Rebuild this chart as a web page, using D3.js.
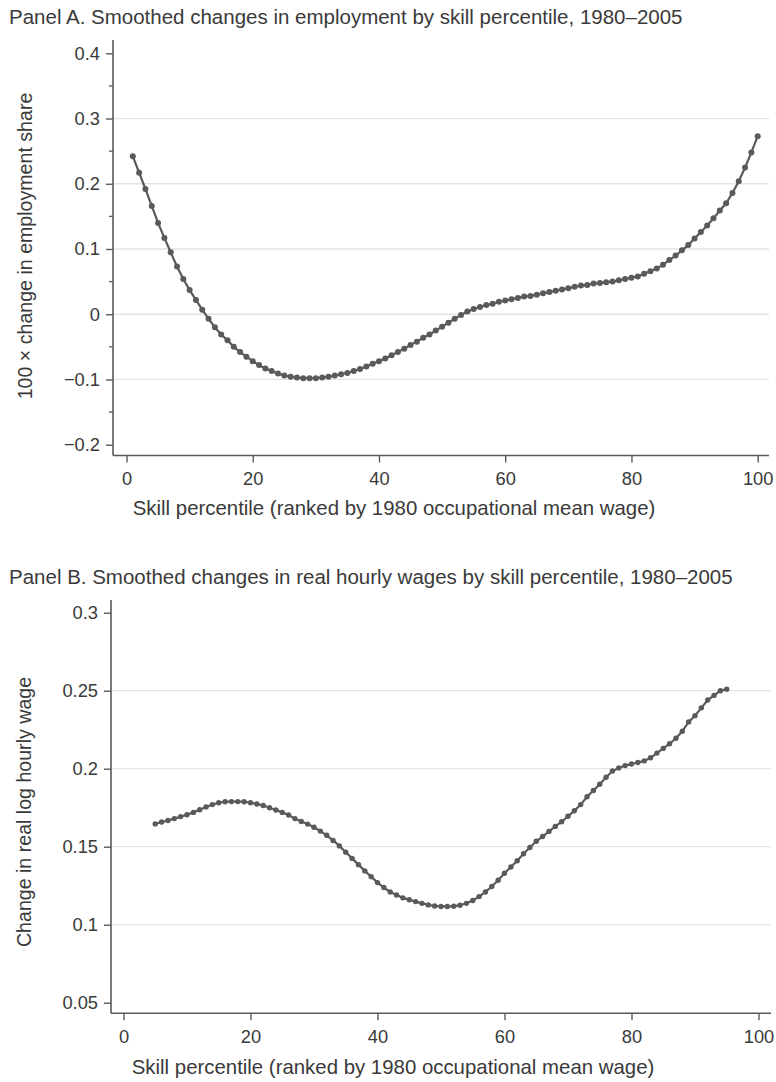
<!DOCTYPE html>
<html>
<head>
<meta charset="utf-8">
<script src="https://cdn.jsdelivr.net/npm/d3@7/dist/d3.min.js"></script>
<style>
  html, body { margin: 0; padding: 0; background: #fff; }
  svg { display: block; font-family: "Liberation Sans", Arial, Helvetica, sans-serif; }
</style>
</head>
<body>
<svg id="chart" width="776" height="1082"></svg>
<script>
// Panel A: smoothed change in employment share by skill percentile (1..100)
const skillA = d3.range(1, 101);
const employmentChange = [
  0.242, 0.217, 0.192, 0.166, 0.140, 0.117, 0.095, 0.073, 0.054, 0.037,
  0.022, 0.007, -0.007, -0.020, -0.031, -0.040, -0.050, -0.058, -0.065, -0.072,
  -0.078, -0.083, -0.087, -0.091, -0.094, -0.096, -0.097, -0.098, -0.098, -0.098,
  -0.097, -0.096, -0.094, -0.092, -0.090, -0.087, -0.084, -0.080, -0.076, -0.072,
  -0.068, -0.063, -0.058, -0.053, -0.047, -0.042, -0.036, -0.031, -0.025, -0.019,
  -0.013, -0.007, -0.001, 0.004, 0.008, 0.011, 0.014, 0.016, 0.019, 0.021,
  0.023, 0.025, 0.027, 0.028, 0.030, 0.032, 0.034, 0.036, 0.038, 0.040,
  0.042, 0.044, 0.045, 0.047, 0.048, 0.049, 0.050, 0.052, 0.054, 0.056,
  0.058, 0.062, 0.066, 0.070, 0.076, 0.083, 0.090, 0.098, 0.106, 0.116,
  0.126, 0.136, 0.147, 0.159, 0.170, 0.186, 0.204, 0.225, 0.248, 0.273
];

// Panel B: smoothed change in real log hourly wage by skill percentile (5..95)
const skillB = d3.range(5, 96);
const wageChange = [
  0.1646, 0.1658, 0.1668, 0.1680, 0.1693, 0.1705, 0.1720, 0.1737, 0.1755, 0.1770,
  0.1782, 0.1788, 0.1789, 0.1789, 0.1788, 0.1782, 0.1774, 0.1764, 0.1750, 0.1735,
  0.1720, 0.1703, 0.1680, 0.1662, 0.1645, 0.1625, 0.1600, 0.1573, 0.1540, 0.1505,
  0.1465, 0.1425, 0.1385, 0.1345, 0.1308, 0.1270, 0.1238, 0.1210, 0.1190, 0.1172,
  0.1160, 0.1148, 0.1137, 0.1127, 0.1120, 0.1117, 0.1117, 0.1118, 0.1125, 0.1137,
  0.1155, 0.1180, 0.1210, 0.1245, 0.1285, 0.1330, 0.1370, 0.1410, 0.1455, 0.1495,
  0.1535, 0.1565, 0.1598, 0.1630, 0.1660, 0.1695, 0.1730, 0.1770, 0.1820, 0.1860,
  0.1900, 0.1945, 0.1985, 0.2005, 0.2020, 0.2030, 0.2040, 0.2050, 0.2070, 0.2100,
  0.2130, 0.2160, 0.2195, 0.2240, 0.2300, 0.2340, 0.2390, 0.2440, 0.2470, 0.2500,
  0.2510
];

// Tick values and labels
const xTicks = [0, 20, 40, 60, 80, 100];
const yTicksA = [-0.2, -0.1, 0, 0.1, 0.2, 0.3, 0.4];
const yMinorA = [-0.15, -0.05, 0.05, 0.15, 0.25, 0.35];
const yTicksB = [0.05, 0.1, 0.15, 0.2, 0.25, 0.3];

const titleA = "Panel A. Smoothed changes in employment by skill percentile, 1980\u20132005";
const titleB = "Panel B. Smoothed changes in real hourly wages by skill percentile, 1980\u20132005";
const yTitleA = "100 \u00d7 change in employment share";
const yTitleB = "Change in real log hourly wage";
const xTitle = "Skill percentile (ranked by 1980 occupational mean wage)";

const TEXT = "#3a3a3a";
const AXIS = "#5a5a5a";
const GRID = "#e4e4e4";
const LINE = "#5a5a5a";

const svg = d3.select("#chart");

function fmtA(v) {
  if (Math.abs(v) < 1e-9) return "0";
  const s = d3.format(".1f")(Math.abs(v));
  return (v < 0 ? "\u2212" : "") + s;
}
function fmtB(v) {
  return String(+v.toFixed(2));
}

function panel(opts) {
  const g = svg.append("g");
  const { x, y, axisLeft, axisBottom, axisTop, axisRight } = opts;

  // title
  g.append("text")
    .attr("x", 9).attr("y", opts.titleY)
    .attr("fill", TEXT).attr("font-size", 20.5)
    .text(opts.title);

  // gridlines (interior major ticks)
  g.append("g").selectAll("line")
    .data(opts.yTicks.slice(1, -1))
    .join("line")
    .attr("x1", axisLeft + 1).attr("x2", axisRight)
    .attr("y1", d => y(d)).attr("y2", d => y(d))
    .attr("stroke", GRID).attr("stroke-width", 1.3);

  // y axis
  const yAxis = d3.axisLeft(y)
    .tickValues(opts.yTicks)
    .tickFormat(opts.fmt)
    .tickSize(7)
    .tickPadding(6);
  const ya = g.append("g").attr("transform", `translate(${axisLeft},0)`).call(yAxis);
  ya.select(".domain").attr("d", `M0,${axisTop}V${axisBottom}`).attr("stroke", AXIS).attr("stroke-width", 1.6);
  ya.selectAll(".tick line").attr("stroke", AXIS).attr("stroke-width", 1.4);
  ya.selectAll(".tick text").attr("fill", TEXT).attr("font-size", 18.3)
    .attr("font-family", "Liberation Sans, Arial, sans-serif");

  if (opts.yMinor) {
    g.append("g").selectAll("line").data(opts.yMinor).join("line")
      .attr("x1", axisLeft - 4).attr("x2", axisLeft)
      .attr("y1", d => y(d)).attr("y2", d => y(d))
      .attr("stroke", AXIS).attr("stroke-width", 1.3);
  }

  // x axis
  const xAxis = d3.axisBottom(x)
    .tickValues(xTicks)
    .tickSize(7)
    .tickPadding(10);
  const xa = g.append("g").attr("transform", `translate(0,${axisBottom})`).call(xAxis);
  xa.select(".domain").attr("d", `M${axisLeft},0H${axisRight}`).attr("stroke", AXIS).attr("stroke-width", 1.6);
  xa.selectAll(".tick line").attr("stroke", AXIS).attr("stroke-width", 1.4);
  xa.selectAll(".tick text").attr("fill", TEXT).attr("font-size", 18.3)
    .attr("font-family", "Liberation Sans, Arial, sans-serif");

  // axis titles
  g.append("text")
    .attr("transform", `translate(${opts.yTitleX},${opts.yTitleCY}) rotate(-90)`)
    .attr("text-anchor", "middle")
    .attr("fill", TEXT).attr("font-size", 19.6)
    .text(opts.yTitle);
  g.append("text")
    .attr("x", opts.xTitleCX).attr("y", opts.xTitleY)
    .attr("text-anchor", "middle")
    .attr("fill", TEXT).attr("font-size", 20.4)
    .text(xTitle);

  // series: line + markers
  const pts = opts.xs.map((s, i) => [s, opts.ys[i]]);
  g.append("path")
    .datum(pts)
    .attr("fill", "none")
    .attr("stroke", LINE)
    .attr("stroke-width", 2.2)
    .attr("d", d3.line().x(d => x(d[0])).y(d => y(d[1])));
  g.append("g").selectAll("circle").data(pts).join("circle")
    .attr("cx", d => x(d[0])).attr("cy", d => y(d[1]))
    .attr("r", opts.r)
    .attr("fill", LINE);
}

// Panel A
panel({
  title: titleA, titleY: 24,
  x: d3.scaleLinear([0, 100], [126.5, 757.7]),
  y: d3.scaleLinear([-0.2, 0.4], [444.7, 53.3]),
  axisLeft: 113, axisRight: 769, axisTop: 40, axisBottom: 455.5,
  yTicks: yTicksA, yMinor: yMinorA, fmt: fmtA,
  yTitle: yTitleA, yTitleX: 32, yTitleCY: 246,
  xTitleCX: 394, xTitleY: 515,
  xs: skillA, ys: employmentChange, r: 3
});

// Panel B
panel({
  title: titleB, titleY: 584,
  x: d3.scaleLinear([0, 100], [123.5, 758.5]),
  y: d3.scaleLinear([0.05, 0.3], [1002.7, 612.7]),
  axisLeft: 111, axisRight: 771, axisTop: 600, axisBottom: 1013.3,
  yTicks: yTicksB, yMinor: null, fmt: fmtB,
  yTitle: yTitleB, yTitleX: 31, yTitleCY: 812,
  xTitleCX: 393, xTitleY: 1074,
  xs: skillB, ys: wageChange, r: 2.7
});
</script>
</body>
</html>
